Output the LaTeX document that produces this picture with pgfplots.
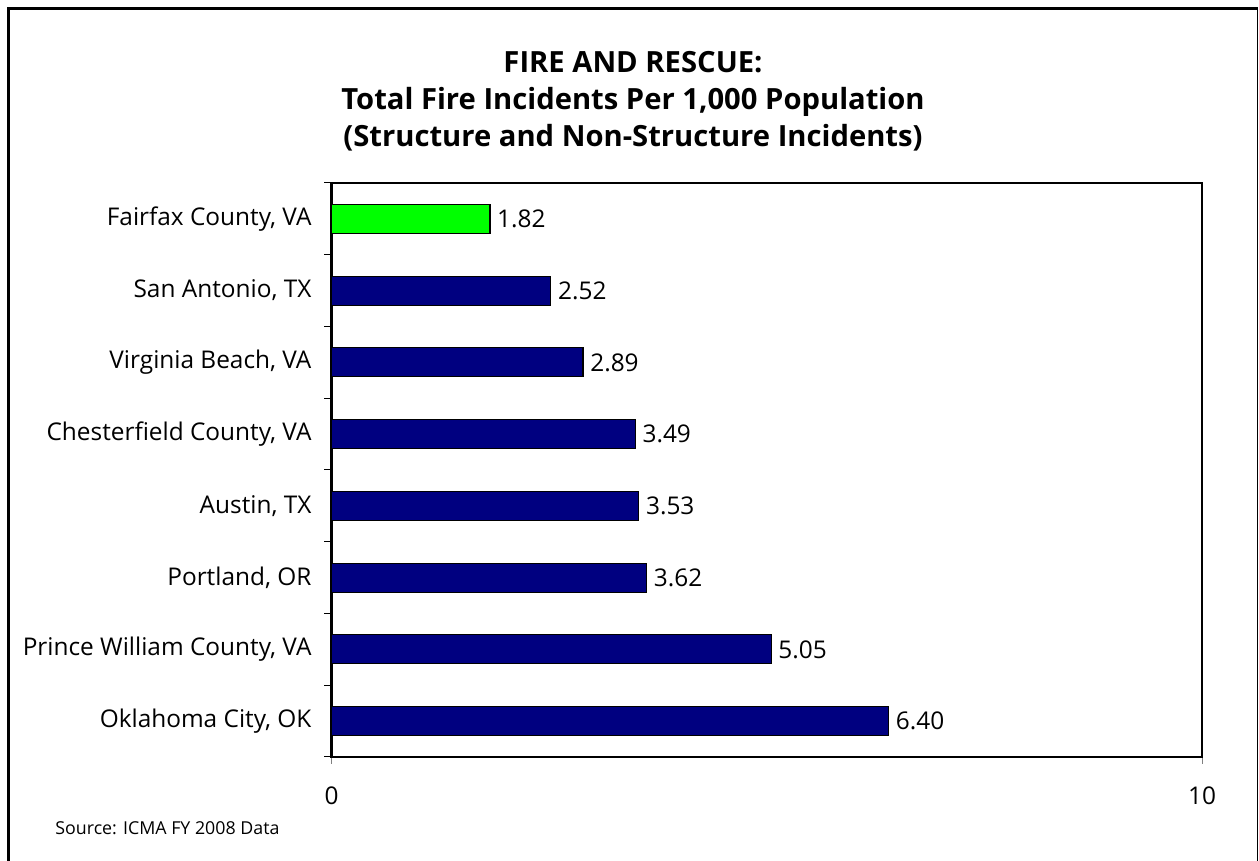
\documentclass[border=0pt]{standalone}
\usepackage{fontspec}
\setmainfont{Open Sans}
\usepackage{pgfplots}
\pgfplotsset{compat=1.18}
\definecolor{navy}{HTML}{000080}
\definecolor{brightgreen}{HTML}{00FF00}
\begin{document}
\begin{tikzpicture}[x=0.5pt,y=0.5pt]
\path[use as bounding box] (0,0) rectangle (1259,861);
\draw[line width=1.5pt] (8,0) -- (8,852.5) -- (1257.5,852.5);
\draw[line width=0.5pt] (1257.5,852.5) -- (1257.5,0);
\node[align=center, font=\bfseries\fontsize{14.6}{18.5}\selectfont] at (633,760)
  {FIRE AND RESCUE:\\Total Fire Incidents Per 1,000 Population\\(Structure and Non-Structure Incidents)};
\node[anchor=west, inner sep=0pt, font=\fontsize{8.9}{10}\selectfont] at (55,33) {Source: ICMA FY 2008 Data};
\begin{axis}[
  at={(165.75pt,52pt)}, anchor=south west,
  width=435.25pt, height=287pt, scale only axis,
  /pgf/number format/assume math mode=true,
  xmin=0, xmax=10, ymin=-0.5, ymax=7.5,
  xtick={0,10},
  ytick={0,...,7},
  yticklabels={{Oklahoma City, OK},{Prince William County, VA},{Portland, OR},{Austin, TX},{Chesterfield County, VA},{Virginia Beach, VA},{San Antonio, TX},{Fairfax County, VA}},
  minor ytick={-0.5,0.5,...,7.5},
  xtick pos=bottom, ytick pos=left,
  tick align=outside,
  major tick length=3.5pt,
  minor tick length=3.5pt,
  every major y tick/.style={draw=none},
  every minor y tick/.style={draw=black, line width=0.5pt},
  xtick style={draw=gray, line width=0.5pt},
  axis line style={line width=1.1pt},
  tick label style={font=\fontsize{12.2}{14}\selectfont},
  yticklabel style={xshift=-3pt},
  xticklabel style={yshift=-8pt},
  xbar,
  bar width=14.5pt,
  point meta=x,
  nodes near coords={\pgfmathprintnumber[fixed,zerofill,precision=2]{\pgfplotspointmeta}},
  nodes near coords style={font=\fontsize{12.2}{14}\selectfont, anchor=west},
  clip=false,
]
\addplot[bar shift=0pt, fill=navy, draw=black, line width=0.6pt] coordinates {(6.40,0) (5.05,1) (3.62,2) (3.53,3) (3.49,4) (2.89,5) (2.52,6)};
\addplot[bar shift=0pt, fill=brightgreen, draw=black, line width=0.6pt] coordinates {(1.82,7)};
\end{axis}
\end{tikzpicture}
\end{document}
